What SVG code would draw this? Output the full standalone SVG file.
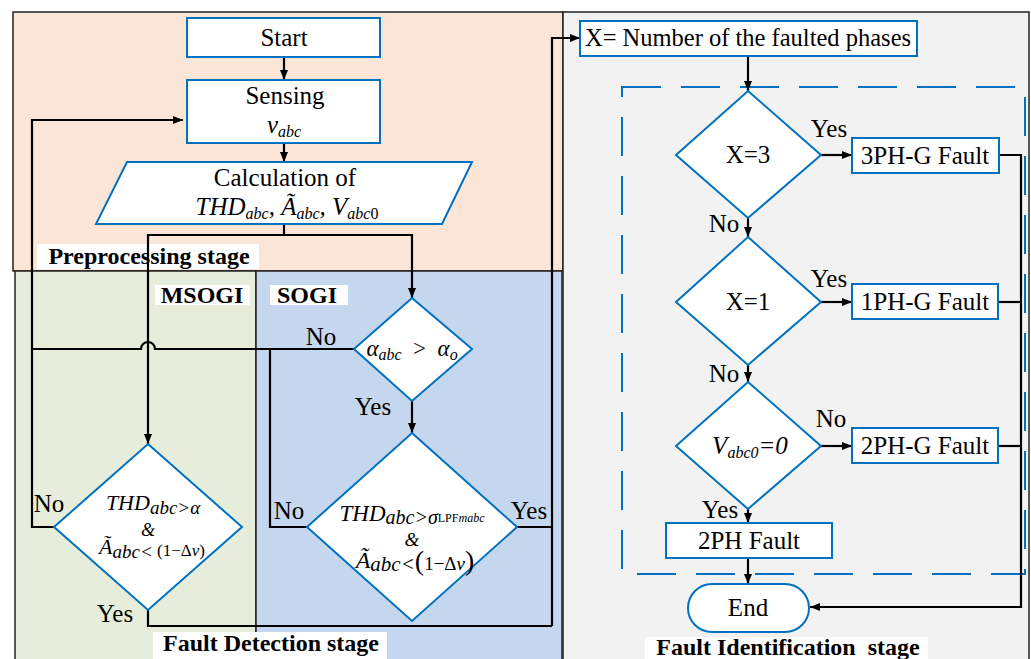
<svg xmlns="http://www.w3.org/2000/svg" width="1031" height="659" viewBox="0 0 1031 659" font-family="'Liberation Serif', 'DejaVu Serif', serif">
<style>
text{font-family:'Liberation Serif','DejaVu Serif',serif;fill:#000}
.b{font-weight:bold}
.i{font-style:italic}
.node{fill:#fff;stroke:#0070c0;stroke-width:2}
.ln{fill:none;stroke:#000;stroke-width:2.2}
.pan{stroke:#222;stroke-width:1.5}
.lab{fill:#fff}
</style>
<defs>
<marker id="ah" viewBox="0 0 10 8" refX="10" refY="4" markerWidth="10" markerHeight="8" orient="auto" markerUnits="userSpaceOnUse">
<path d="M0,0 L10,4 L0,8 z" fill="#000"/>
</marker>
</defs>
<rect width="1031" height="659" fill="#fff"/>
<g id="panels">
<rect class="pan" x="13" y="12" width="550" height="259" fill="#fbe5d6"/>
<rect class="pan" x="15" y="271" width="241" height="390" fill="#e6eedb"/>
<rect class="pan" x="256" y="271" width="306" height="390" fill="#c5d7ee"/>
<rect class="pan" x="563" y="12" width="466" height="649" fill="#f2f2f2"/>
<rect x="622" y="87" width="403" height="487" fill="none" stroke="#0070c0" stroke-width="2" stroke-dasharray="39,20"/>
</g>
<g id="labels">
<rect class="lab" x="37" y="244" width="222" height="25"/>
<text class="b" x="149" y="264" font-size="24" text-anchor="middle">Preprocessing stage</text>
<rect class="lab" x="155" y="285" width="95" height="20"/>
<text class="b" x="202" y="303" font-size="24" text-anchor="middle">MSOGI</text>
<rect class="lab" x="270" y="285" width="78" height="20"/>
<text class="b" x="307" y="303" font-size="24" text-anchor="middle">SOGI</text>
<rect class="lab" x="153" y="632" width="234" height="27"/>
<text class="b" x="271" y="651" font-size="24" text-anchor="middle">Fault Detection stage</text>
<rect class="lab" x="645" y="637" width="283" height="22"/>
<text class="b" x="788" y="655" font-size="24" text-anchor="middle" xml:space="preserve">Fault Identification  stage</text>
</g>
<g id="connectors">
<line class="ln" x1="284" y1="57" x2="284" y2="80" marker-end="url(#ah)"/>
<line class="ln" x1="284" y1="143" x2="284" y2="162" marker-end="url(#ah)"/>
<polyline class="ln" points="284,224 284,235 148,235 148,444" marker-end="url(#ah)"/>
<polyline class="ln" points="284,235 412,235 412,298" marker-end="url(#ah)"/>
<path class="ln" d="M354,349 L155,349 A7,7 0 0 0 141,349 L32,349"/>
<polyline class="ln" points="54,527 32,527 32,120 183,120" marker-end="url(#ah)"/>
<polyline class="ln" points="270,349 270,527 307,527"/>
<line class="ln" x1="412" y1="401" x2="412" y2="433" marker-end="url(#ah)"/>
<polyline class="ln" points="148,610 148,626 552,626"/>
<polyline class="ln" points="517,527 552,527"/>
<polyline class="ln" points="552,626 552,38 580,38" marker-end="url(#ah)"/>
<line class="ln" x1="748" y1="56" x2="748" y2="91" marker-end="url(#ah)"/>
<line class="ln" x1="821" y1="155" x2="852" y2="155" marker-end="url(#ah)"/>
<line class="ln" x1="748" y1="218" x2="748" y2="237" marker-end="url(#ah)"/>
<line class="ln" x1="821" y1="302" x2="852" y2="302" marker-end="url(#ah)"/>
<line class="ln" x1="748" y1="365" x2="748" y2="382" marker-end="url(#ah)"/>
<line class="ln" x1="821" y1="446" x2="852" y2="446" marker-end="url(#ah)"/>
<line class="ln" x1="748" y1="509" x2="748" y2="523" marker-end="url(#ah)"/>
<line class="ln" x1="748" y1="558" x2="748" y2="584" marker-end="url(#ah)"/>
<polyline class="ln" points="999,155 1021,155 1021,607 810,607" marker-end="url(#ah)"/>
<line class="ln" x1="998" y1="302" x2="1021" y2="302"/>
<line class="ln" x1="998" y1="446" x2="1021" y2="446"/>
</g>
<g id="edge-labels" font-size="25" text-anchor="middle">
<text x="321" y="345">No</text>
<text x="373" y="415">Yes</text>
<text x="49" y="512">No</text>
<text x="115" y="622">Yes</text>
<text x="289" y="519">No</text>
<text x="529" y="519">Yes</text>
<text x="829" y="137">Yes</text>
<text x="724" y="232">No</text>
<text x="829" y="287">Yes</text>
<text x="724" y="382">No</text>
<text x="831" y="427">No</text>
<text x="720" y="518">Yes</text>
</g>
<g id="start">
<rect class="node" x="187" y="18" width="193" height="39"/>
<text x="284" y="46" font-size="25" text-anchor="middle">Start</text>
</g>
<g id="sensing">
<rect class="node" x="187" y="80" width="193" height="63"/>
<text x="285" y="104" font-size="25" text-anchor="middle">Sensing</text>
<text class="i" x="284" y="133" font-size="25" text-anchor="middle">v<tspan font-size="16" dy="4">abc</tspan></text>
</g>
<g id="calc">
<polygon class="node" points="127,162 472,162 442,224 96,224"/>
<text x="285" y="186" font-size="25" text-anchor="middle">Calculation of</text>
<text class="i" x="287" y="215" font-size="25" text-anchor="middle">THD<tspan font-size="16" dy="4">abc</tspan><tspan dy="-4">, Ã</tspan><tspan font-size="16" dy="4">abc</tspan><tspan dy="-4">, V</tspan><tspan font-size="16" dy="4">abc</tspan><tspan font-size="16" font-style="normal">0</tspan></text>
</g>
<g id="sogi-check">
<polygon class="node" points="412,298 472,349 412,401 354,349"/>
<text class="i" x="412" y="356" font-size="23" text-anchor="middle">α<tspan font-size="16" dy="4">abc</tspan><tspan dy="-4" font-style="normal" xml:space="preserve">  &gt;  </tspan>α<tspan font-size="16" dy="4">o</tspan></text>
</g>
<g id="sogi-thd">
<polygon class="node" points="412,433 517,527 412,621 307,527"/>
<text class="i" x="412" y="521" font-size="23" text-anchor="middle">THD<tspan font-size="20" dy="3">abc&gt;σ</tspan><tspan font-size="12" font-style="normal" dy="-2">LPF</tspan><tspan font-size="12">mabc</tspan></text>
<text class="i" x="412" y="546" font-size="19" text-anchor="middle">&amp;</text>
<text class="i" x="415" y="568" font-size="24" text-anchor="middle">Ã<tspan font-size="21" dy="3">abc&lt;</tspan><tspan font-style="normal" font-size="28" dy="-1">(</tspan><tspan font-style="normal" font-size="19">1−Δ</tspan><tspan font-size="19">v</tspan><tspan font-style="normal" font-size="28">)</tspan></text>
</g>
<g id="msogi-thd">
<polygon class="node" points="148,444 242,527 148,610 54,527"/>
<text class="i" x="153" y="510" font-size="22" text-anchor="middle">THD<tspan font-size="19" dy="4">abc&gt;α</tspan></text>
<text class="i" x="148" y="536" font-size="18" text-anchor="middle">&amp;</text>
<text class="i" x="152" y="554" font-size="22" text-anchor="middle">Ã<tspan font-size="19" dy="4">abc&lt;</tspan><tspan font-style="normal" font-size="17" dy="-2"> (1−Δ</tspan><tspan font-size="17">v</tspan><tspan font-style="normal" font-size="17">)</tspan></text>
</g>
<g id="x-count">
<rect class="node" x="580" y="21" width="337" height="35"/>
<text x="748" y="46" font-size="24.5" text-anchor="middle">X= Number of the faulted phases</text>
</g>
<g id="x3">
<polygon class="node" points="748,91 821,155 748,218 676,155"/>
<text x="748" y="163" font-size="25" text-anchor="middle">X=3</text>
</g>
<g id="f3ph">
<rect class="node" x="852" y="138" width="147" height="35"/>
<text x="925" y="164" font-size="25" text-anchor="middle">3PH-G Fault</text>
</g>
<g id="x1">
<polygon class="node" points="748,237 821,302 748,365 676,302"/>
<text x="748" y="310" font-size="25" text-anchor="middle">X=1</text>
</g>
<g id="f1ph">
<rect class="node" x="852" y="284" width="146" height="35"/>
<text x="925" y="310" font-size="25" text-anchor="middle">1PH-G Fault</text>
</g>
<g id="v0">
<polygon class="node" points="748,382 821,446 748,509 676,446"/>
<text class="i" x="750" y="454" font-size="25" text-anchor="middle">V<tspan font-size="16" dy="4">abc0</tspan><tspan dy="-4">=0</tspan></text>
</g>
<g id="f2phg">
<rect class="node" x="852" y="428" width="146" height="35"/>
<text x="925" y="454" font-size="25" text-anchor="middle">2PH-G Fault</text>
</g>
<g id="f2ph">
<rect class="node" x="666" y="523" width="166" height="35"/>
<text x="749" y="549" font-size="25" text-anchor="middle">2PH Fault</text>
</g>
<g id="end">
<rect class="node" x="688" y="584" width="121" height="48" rx="24" ry="24"/>
<text x="748" y="616" font-size="25" text-anchor="middle">End</text>
</g>
</svg>
